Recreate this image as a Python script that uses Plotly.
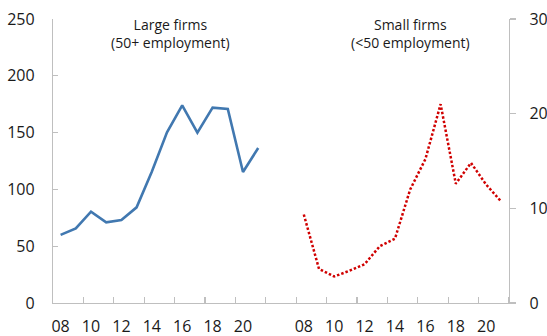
import plotly.graph_objects as go

years = [2008, 2009, 2010, 2011, 2012, 2013, 2014, 2015, 2016, 2017, 2018, 2019, 2020, 2021]
large_firms = [60, 65.7, 80.4, 71, 73, 84.2, 115.6, 150.2, 174, 149.9, 172, 170.8, 115.3, 136.4]
small_firms = [9.35, 3.6, 2.8, 3.4, 4.1, 6.0, 6.8, 12.0, 15.2, 21.0, 12.6, 14.8, 12.5, 10.7]
large_title = "Large firms<br>(50+ employment)"
small_title = "Small firms<br>(<50 employment)"
left_ticks = [0, 50, 100, 150, 200, 250]
right_ticks = [0, 10, 20, 30]

GAP = 2
n = len(years)
x_large = list(range(n))
x_small = [i + n + GAP for i in range(n)]
total = 2 * n + GAP

tick_pos = [x for x, y in zip(x_large, years) if y % 2 == 0] + [x for x, y in zip(x_small, years) if y % 2 == 0]
tick_txt = [f"{y % 100:02d}" for y in years if y % 2 == 0] * 2
boundaries = [k - 0.5 for k in range(2, total + 1, 2)]

AX = "#bfbfbf"
TXT = "#1a1a1a"
FONT = "Open Sans"

fig = go.Figure()
fig.add_trace(go.Scatter(x=x_large, y=large_firms, mode="lines",
                         line=dict(color="#4178b0", width=2.6), yaxis="y", showlegend=False))
fig.add_trace(go.Scatter(x=x_small, y=small_firms, mode="lines",
                         line=dict(color="#d00000", width=2.5, dash="2.5px,2px"), yaxis="y2", showlegend=False))

fig.update_layout(
    width=547, height=336,
    margin=dict(l=53, r=38, t=19, b=33, autoexpand=False),
    paper_bgcolor="white", plot_bgcolor="white",
    font=dict(family=FONT, size=16, color=TXT),
    hovermode=False,
    xaxis=dict(range=[-0.5, total - 0.5], tickmode="array", tickvals=tick_pos, ticktext=tick_txt,
               ticks="", showline=True, linecolor=AX, linewidth=1.2, showgrid=False, zeroline=False,
               ticklabelstandoff=9,
               minor=dict(tickmode="array", tickvals=boundaries, ticks="inside", ticklen=6,
                          tickcolor=AX, tickwidth=1.2, showgrid=False)),
    yaxis=dict(range=[0, 250], tickmode="array", tickvals=left_ticks, ticks="inside", ticklen=5,
               tickcolor=AX, tickwidth=1.2, showline=True, linecolor=AX, linewidth=1.2,
               showgrid=False, zeroline=False, ticklabelstandoff=14),
    yaxis2=dict(range=[0, 30], tickmode="array", tickvals=right_ticks, overlaying="y", side="right",
                ticks="outside", ticklen=6, tickcolor=AX, tickwidth=1.2, showline=True, linecolor=AX,
                linewidth=1.2, showgrid=False, zeroline=False, ticklabelstandoff=10),
    annotations=[
        dict(x=7.25, y=237, xref="x", yref="y", text=large_title, showarrow=False,
             font=dict(family=FONT, size=14, color=TXT), align="center", yanchor="middle"),
        dict(x=23.0, y=28.5, xref="x", yref="y2", text=small_title, showarrow=False,
             font=dict(family=FONT, size=14, color=TXT), align="center", yanchor="middle"),
    ],
)

fig.write_html("out.html", config={"displayModeBar": False, "staticPlot": True},
               post_script="document.body.style.margin='0';document.body.style.padding='0';")
